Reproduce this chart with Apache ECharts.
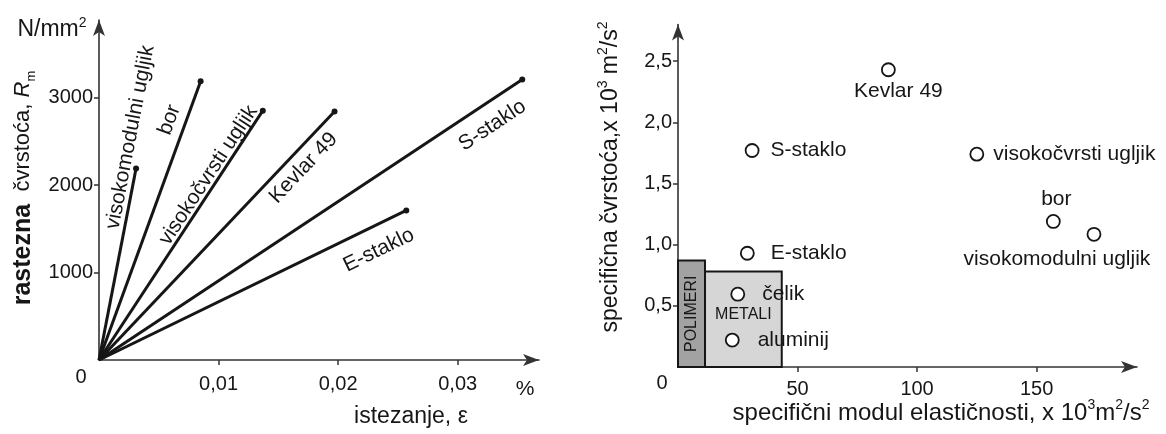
<!DOCTYPE html>
<html><head><meta charset="utf-8">
<script src="https://cdn.jsdelivr.net/npm/echarts@6/dist/echarts.min.js"></script>
<style>html,body{margin:0;padding:0;background:#fff}#c{width:1166px;height:434px}</style>
</head><body><div id="c"></div>
<script>
// ---------- left chart data ----------
const fibreNames = ['visokomodulni ugljik', 'bor', 'visokočvrsti ugljik', 'Kevlar 49', 'S-staklo', 'E-staklo'];
const fibreStrain = [0.0031, 0.0085, 0.0137, 0.0197, 0.0354, 0.0257];       // %
const fibreStrength = [2190, 3185, 2850, 2840, 3205, 1710];                  // N/mm2
const leftXTicks = [0.01, 0.02, 0.03];
const leftYTicks = [1000, 2000, 3000];

// ---------- right chart data ----------
const materials = ['Kevlar 49', 'S-staklo', 'visokočvrsti ugljik', 'bor', 'visokomodulni ugljik', 'E-staklo', 'čelik', 'aluminij'];
const specModulus = [88, 31, 125, 157, 174, 29, 25, 22.7];
const specStrength = [2.43, 1.77, 1.74, 1.19, 1.085, 0.93, 0.595, 0.22];
const rightXTicks = [50, 100, 150];
const rightYTicks = [0.5, 1.0, 1.5, 2.0, 2.5];

const regionNames = ['POLIMERI', 'METALI'];
const regionModFrom = [0, 11.3];
const regionModTo = [11.3, 43.4];
const regionStrengthTop = [0.87, 0.78];

// ---------- layout / style (not data) ----------
const FONT = 'Liberation Sans, Arial, sans-serif';
const INK = '#161616';
const leftLabelAnchor = [[0.00262, 2545], [0.00590, 2745], [0.00915, 2110], [0.01710, 2195], [0.0329, 2680], [0.02340, 1255]];
const scatterLabelLayout = {
  'Kevlar 49': { position: 'bottom', distance: 4, offset: [10, 0] },
  'S-staklo': { position: 'right', distance: 11 },
  'visokočvrsti ugljik': { position: 'right', distance: 9 },
  'bor': { position: 'top', distance: 4, offset: [3, 0] },
  'visokomodulni ugljik': { position: 'bottom', distance: 7, offset: [-37, 0] },
  'E-staklo': { position: 'right', distance: 16 },
  'čelik': { position: 'right', distance: 17 },
  'aluminij': { position: 'right', distance: 18 }
};
const regionFill = ['#a2a2a2', '#d6d6d6'];
const regionLabelFrac = [0.5, 0.545];

const chart = echarts.init(document.getElementById('c'), null, { renderer: 'canvas' });

const axisLineStyle = { color: '#333', width: 1.6 };
const tickLabel = { color: INK, fontSize: 20, fontFamily: FONT };

const leftSeries = fibreNames.map((n, i) => ({
  type: 'line', name: n, xAxisIndex: 0, yAxisIndex: 0,
  data: [{ value: [0, 0], symbolSize: 0 }, { value: [fibreStrain[i], fibreStrength[i]] }],
  symbol: 'circle', symbolSize: 6, showSymbol: true,
  lineStyle: { color: INK, width: 3 }, itemStyle: { color: INK },
  z: 3, silent: true
}));

const option = {
  animation: false,
  backgroundColor: '#fff',
  grid: [
    { left: 99, top: 20, width: 440, height: 340, containLabel: false, outerBoundsMode: 'none' },
    { left: 678, top: 24.5, width: 459, height: 342.5, containLabel: false, outerBoundsMode: 'none' }
  ],
  xAxis: [
    {
      type: 'value', gridIndex: 0, min: 0, max: 0.0368, splitLine: { show: false },
      axisLine: { onZero: false, lineStyle: axisLineStyle, symbol: ['none', 'arrow'], symbolSize: [9, 16] },
      axisTick: { show: true, length: 5, lineStyle: { color: '#333', width: 1.5 }, customValues: leftXTicks },
      axisLabel: { ...tickLabel, margin: 14, customValues: leftXTicks, formatter: v => v.toFixed(2).replace('.', ',') }
    },
    {
      type: 'value', gridIndex: 1, min: 0, max: 192, splitLine: { show: false },
      axisLine: { onZero: false, lineStyle: axisLineStyle, symbol: ['none', 'arrow'], symbolSize: [9, 16] },
      axisTick: { show: true, length: 5, lineStyle: { color: '#333', width: 1.5 }, customValues: rightXTicks },
      axisLabel: { ...tickLabel, margin: 12, customValues: rightXTicks, formatter: v => String(v) }
    }
  ],
  yAxis: [
    {
      type: 'value', gridIndex: 0, min: 0, max: 3886, splitLine: { show: false },
      axisLine: { show: true, onZero: false, lineStyle: axisLineStyle, symbol: ['none', 'arrow'], symbolSize: [9, 16] },
      axisTick: { show: true, length: 5, lineStyle: { color: '#333', width: 1.5 }, customValues: leftYTicks },
      axisLabel: { ...tickLabel, margin: 6, customValues: leftYTicks, formatter: v => String(v) }
    },
    {
      type: 'value', gridIndex: 1, min: 0, max: 2.8, splitLine: { show: false },
      axisLine: { show: true, onZero: false, lineStyle: axisLineStyle, symbol: ['none', 'arrow'], symbolSize: [9, 16] },
      axisTick: { show: true, length: 5, lineStyle: { color: '#333', width: 1.5 }, customValues: rightYTicks },
      axisLabel: { ...tickLabel, margin: 6, customValues: rightYTicks, formatter: v => v.toFixed(1).replace('.', ',') }
    }
  ],
  series: [
    ...leftSeries,
    {
      type: 'custom', name: 'regions', xAxisIndex: 1, yAxisIndex: 1, z: 1, silent: true,
      data: regionNames.map((n, i) => [regionModFrom[i], regionModTo[i], regionStrengthTop[i]]),
      renderItem: (params, api) => {
        const i = params.dataIndex;
        const p0 = api.coord([api.value(0), 0]);
        const p1 = api.coord([api.value(1), api.value(2)]);
        const cx = (p0[0] + p1[0]) / 2;
        const cy = p0[1] - (p0[1] - p1[1]) * regionLabelFrac[i];
        return {
          type: 'group', children: [
            { type: 'rect', shape: { x: p0[0], y: p1[1], width: p1[0] - p0[0], height: p0[1] - p1[1] },
              style: { fill: regionFill[i], stroke: INK, lineWidth: 2 } },
            { type: 'text', x: cx, y: cy, rotation: i === 0 ? Math.PI / 2 : 0,
              style: { text: regionNames[i], fill: INK, font: '16px ' + FONT, align: 'center', verticalAlign: 'middle' } }
          ]
        };
      }
    },
    {
      type: 'scatter', name: 'materials', xAxisIndex: 1, yAxisIndex: 1, z: 4, silent: true,
      symbol: 'circle', symbolSize: 13,
      itemStyle: { color: '#fff', borderColor: INK, borderWidth: 1.8, opacity: 1 },
      data: materials.map((m, i) => ({
        name: m, value: [specModulus[i], specStrength[i]],
        label: { show: true, formatter: m, color: INK, fontSize: 21, fontFamily: FONT, ...scatterLabelLayout[m] }
      }))
    }
  ]
};
chart.setOption(option);

// ---------- annotations positioned through the chart's own scales ----------
const g = [];
const px0 = (p) => chart.convertToPixel({ gridIndex: 0 }, p);
const px1 = (p) => chart.convertToPixel({ gridIndex: 1 }, p);
const o0 = px0([0, 0]);
fibreNames.forEach((n, i) => {
  const e = px0([fibreStrain[i], fibreStrength[i]]);
  const c = px0(leftLabelAnchor[i]);
  const rot = Math.atan2(o0[1] - e[1], e[0] - o0[0]);
  g.push({ type: 'text', x: c[0], y: c[1], rotation: rot, z: 10,
    style: { text: n, fill: INK, font: '21px ' + FONT, align: 'center', verticalAlign: 'middle' } });
});
// origin "0" labels
g.push({ type: 'text', x: o0[0] - 18, y: o0[1] + 17, style: { text: '0', fill: INK, font: '20px ' + FONT, align: 'center', verticalAlign: 'middle' } });
const r0 = px1([0, 0]);
g.push({ type: 'text', x: r0[0] - 16, y: r0[1] + 16, style: { text: '0', fill: INK, font: '20px ' + FONT, align: 'center', verticalAlign: 'middle' } });

// units and titles
g.push({ type: 'text', x: 52, y: 30, style: {
  text: 'N/mm{sup|2}', fill: INK, font: '23px ' + FONT, align: 'center', verticalAlign: 'middle',
  rich: { sup: { fontSize: 14, fontFamily: FONT, verticalAlign: 'top', lineHeight: 28 } }, lineHeight: 28 } });
g.push({ type: 'text', x: 525, y: 389, style: { text: '%', fill: INK, font: '21px ' + FONT, align: 'center', verticalAlign: 'middle' } });
g.push({ type: 'text', x: 411, y: 417, style: { text: 'istezanje, ε', fill: INK, font: '23px ' + FONT, align: 'center', verticalAlign: 'middle' } });
g.push({ type: 'text', x: 23, y: 188, rotation: Math.PI / 2, style: {
  text: '{b|rastezna}  čvrstoća, {i|R}{sub|m}', fill: INK, font: '22px ' + FONT, align: 'center', verticalAlign: 'middle', lineHeight: 30,
  rich: {
    b: { fontSize: 25, fontWeight: 'bold', fontFamily: FONT, lineHeight: 30 },
    i: { fontSize: 22, fontStyle: 'italic', fontFamily: FONT, lineHeight: 30 },
    sub: { fontSize: 13, fontFamily: FONT, verticalAlign: 'bottom', lineHeight: 30 }
  } } });
g.push({ type: 'text', x: 611, y: 177, rotation: Math.PI / 2, style: {
  text: 'specifična čvrstoća,x 10{sup|3} m{sup|2}/s{sup|2}', fill: INK, font: '23px ' + FONT, align: 'center', verticalAlign: 'middle', lineHeight: 30,
  rich: { sup: { fontSize: 14, fontFamily: FONT, verticalAlign: 'top', lineHeight: 30 } } } });
g.push({ type: 'text', x: 941, y: 413, style: {
  text: 'specifični modul elastičnosti, x 10{sup|3}m{sup|2}/s{sup|2}', fill: INK, font: '24px ' + FONT, align: 'center', verticalAlign: 'middle', lineHeight: 30,
  rich: { sup: { fontSize: 14, fontFamily: FONT, verticalAlign: 'top', lineHeight: 30 } } } });

chart.setOption({ graphic: g });
</script>
</body></html>
